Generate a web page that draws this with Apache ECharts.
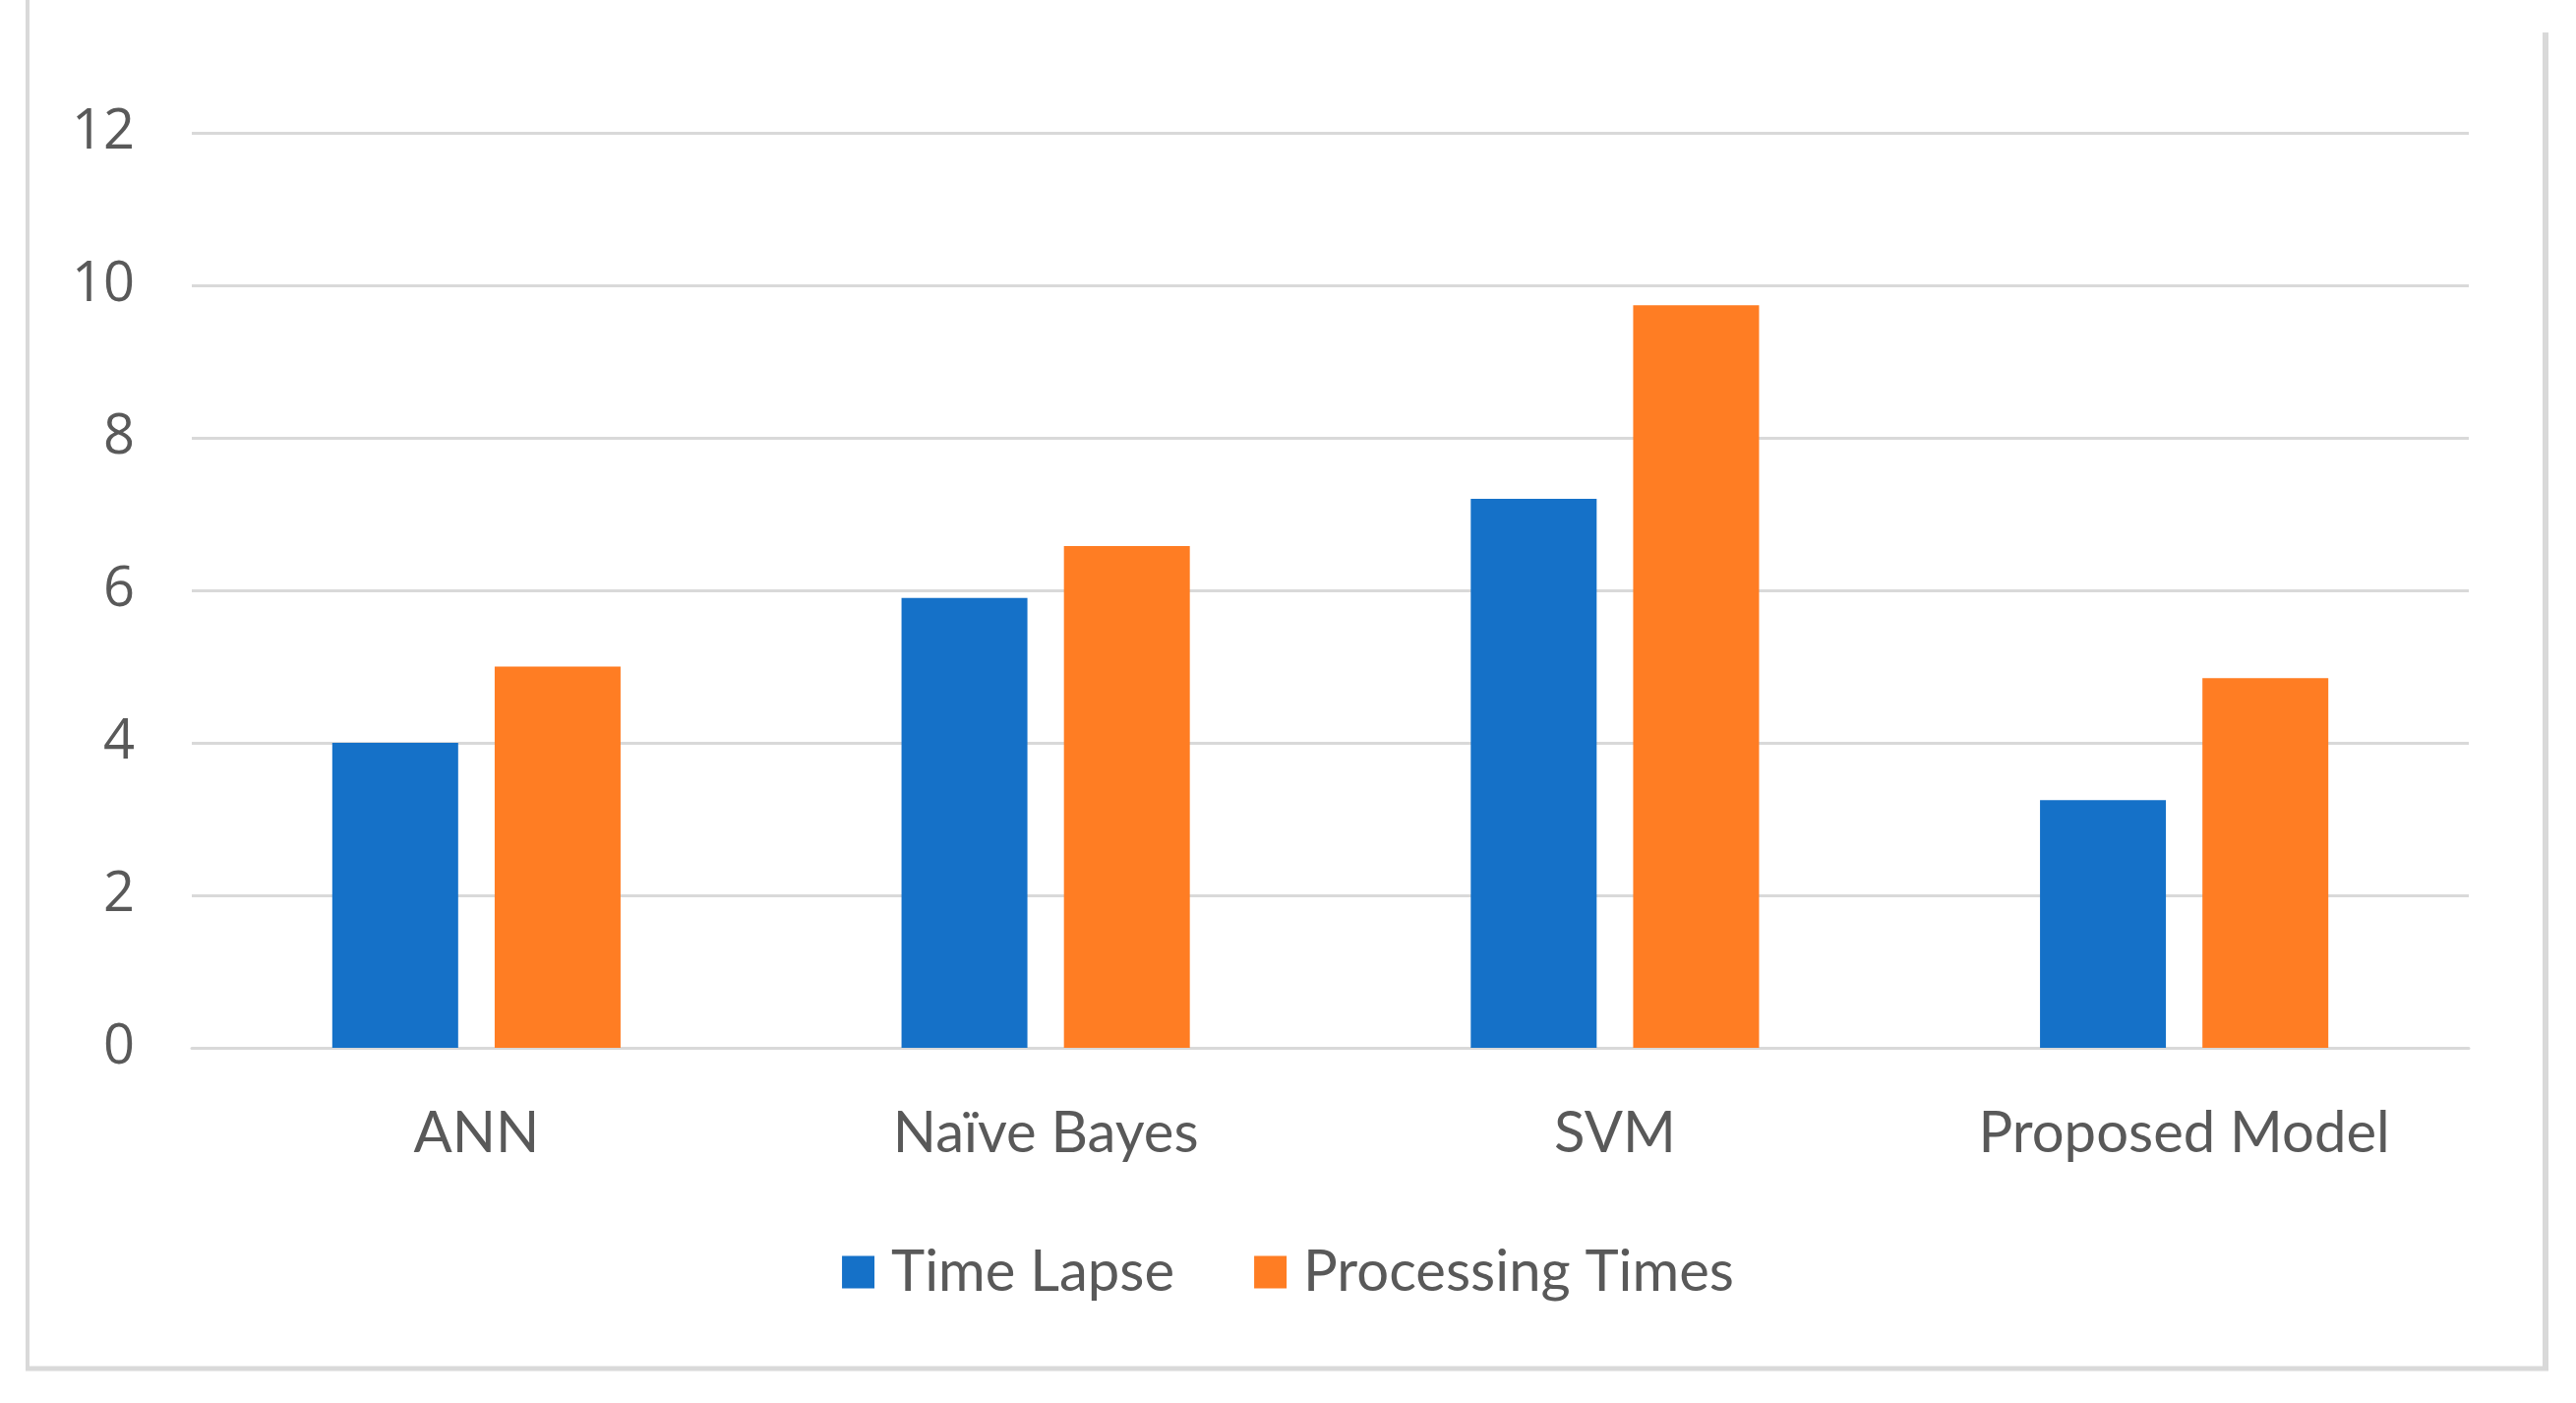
<!DOCTYPE html>
<html>
<head>
<meta charset="utf-8">
<script src="https://cdn.jsdelivr.net/npm/echarts@6/dist/echarts.min.js"></script>
<style>
html,body{margin:0;padding:0;background:#fff;}
#chart{width:2619px;height:1426px;}
</style>
</head>
<body>
<div id="chart"></div>
<script>
const categories = ['ANN', 'Naïve Bayes', 'SVM', 'Proposed Model'];
const timeLapse = [4.0, 5.9, 7.2, 3.25];
const processingTimes = [5.0, 6.58, 9.74, 4.85];
const seriesNames = ['Time Lapse', 'Processing Times'];
const yTicks = [0, 2, 4, 6, 8, 10, 12];

const chart = echarts.init(document.getElementById('chart'));
const textColor = '#595959';
const gridColor = '#d9d9d9';
const font = 'Lato';

chart.setOption({
  backgroundColor: '#ffffff',
  animation: false,
  grid: { left: 195, right: 109, top: 135, bottom: 361, containLabel: false },
  legend: {
    data: seriesNames,
    left: 'center',
    top: 1259,
    itemWidth: 33,
    itemHeight: 33,
    itemGap: 81,
    icon: 'rect',
    textStyle: { color: textColor, fontSize: 58, fontFamily: font, padding: [0, 0, 0, 12] }
  },
  xAxis: {
    type: 'category',
    data: categories,
    axisLine: { show: true, lineStyle: { color: gridColor, width: 3 } },
    axisTick: { show: false },
    axisLabel: { color: textColor, fontSize: 58, fontFamily: font, margin: 58 }
  },
  yAxis: {
    type: 'value',
    min: yTicks[0],
    max: yTicks[yTicks.length - 1],
    interval: 2,
    axisLine: { show: false },
    axisTick: { show: false },
    axisLabel: { color: textColor, fontSize: 56, fontFamily: 'Open Sans', margin: 58, padding: [8, 0, 0, 0] },
    splitLine: { show: true, lineStyle: { color: gridColor, width: 3 } }
  },
  series: [
    {
      name: seriesNames[0], type: 'bar', data: timeLapse,
      barWidth: 128, barGap: '29%',
      itemStyle: { color: '#1571c8' }
    },
    {
      name: seriesNames[1], type: 'bar', data: processingTimes,
      barWidth: 128, barGap: '29%',
      itemStyle: { color: '#ff7d23' }
    }
  ],
  graphic: [
    { type: 'line', shape: { x1: 28, y1: 0, x2: 28, y2: 1391 }, style: { stroke: gridColor, lineWidth: 4 }, silent: true },
    { type: 'line', shape: { x1: 26, y1: 1391, x2: 2591, y2: 1391 }, style: { stroke: gridColor, lineWidth: 5 }, silent: true },
    { type: 'line', shape: { x1: 2588, y1: 33, x2: 2588, y2: 1393 }, style: { stroke: gridColor, lineWidth: 6 }, silent: true }
  ]
});
</script>
</body>
</html>
